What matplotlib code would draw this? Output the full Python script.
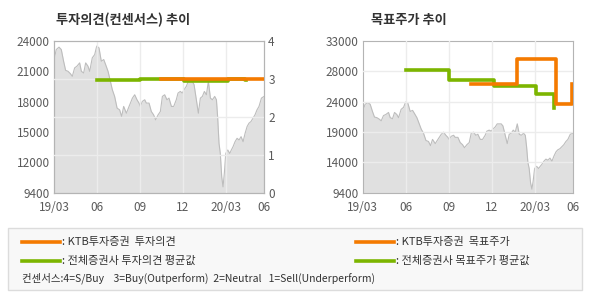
import matplotlib
matplotlib.use("Agg")
import matplotlib.pyplot as plt
from matplotlib.patches import Rectangle
from matplotlib.lines import Line2D

plt.rcParams['font.family'] = ['Noto Sans CJK KR', 'DejaVu Sans']

# x in months since 19/03
price_m = [0.00, 0.16, 0.35, 0.51, 0.67, 0.81, 0.98, 1.14, 1.28, 1.44, 1.60, 1.79, 1.91, 2.07,
           2.21, 2.37, 2.49, 2.67, 2.84, 2.98, 3.14, 3.30, 3.47, 3.60, 3.77, 3.88, 4.07, 4.23,
           4.40, 4.58, 4.72, 4.86, 5.05, 5.19, 5.33, 5.47, 5.63, 5.79, 5.93, 6.02, 6.16, 6.33,
           6.44, 6.63, 6.79, 6.95, 7.09, 7.26, 7.42, 7.56, 7.72, 7.88, 8.02, 8.19, 8.35, 8.53,
           8.65, 8.81, 8.95, 9.07, 9.23, 9.37, 9.51, 9.65, 9.77, 9.93, 10.07, 10.21, 10.35,
           10.49, 10.63, 10.77, 10.91, 11.05, 11.21, 11.33, 11.42, 11.51, 11.60, 11.70, 11.79,
           11.88, 11.98, 12.12, 12.26, 12.37, 12.49, 12.63, 12.77, 12.91, 13.05, 13.19, 13.33,
           13.47, 13.60, 13.74, 13.88, 14.02, 14.16, 14.30, 14.47, 14.65]
price = [22200, 23160, 23390, 23160, 22040, 21170, 21070, 20850, 20590, 21400, 21560, 21880,
         21070, 20910, 21880, 21560, 21070, 22360, 22680, 23490, 23320, 22040, 22200, 21720,
         21070, 20430, 19300, 18660, 17540, 17370, 16730, 17700, 17050, 17540, 18020, 18500,
         18820, 18340, 18020, 17700, 18180, 18340, 18020, 18020, 17210, 16890, 16410, 16890,
         17210, 18660, 18820, 18340, 18500, 17700, 17700, 18340, 18980, 19140, 18980, 19300,
         19630, 20110, 20110, 20110, 19790, 18340, 17050, 18500, 18660, 19140, 18820, 20110,
         18500, 18340, 18660, 18340, 16570, 14160, 13190, 10940, 9980, 11260, 13190, 13520,
         13190, 13520, 13840, 14320, 14640, 14480, 14800, 14320, 15120, 15770, 16090, 16250,
         16570, 16890, 17370, 17700, 18500, 18660]

# opinion (right axis 0-4)
ktb_op_m = [7.49, 14.65]
ktb_op = [3.0, 3.0]
avg_op_m = [3.0, 6.02, 9.07, 12.16, 13.35, 13.40]
avg_op = [2.96, 3.0, 2.93, 3.0, 2.96, 2.96]

# target price
ktb_tp_m = [7.51, 10.77, 13.44, 14.58]
ktb_tp = [26240, 30250, 23230, 26290]
avg_tp_m = [3.0, 6.02, 9.12, 12.09, 13.35]
avg_tp = [28500, 26870, 26030, 24790, 22550]

xtick_m = [0, 3, 6, 9, 12, 14.65]
xtick_lbl = ["19/03", "06", "09", "12", "20/03", "06"]
left_lbl = ["9400", "12000", "15000", "18000", "21000", "24000"]
right_lbl = ["9400", "14000", "19000", "24000", "28000", "33000"]

ORANGE = "#f47a00"
GREEN = "#7cb500"
TXT = "#5a5a5a"

fig = plt.figure(figsize=(5.9, 3.0), dpi=100)


def price_panel(ax, lo, hi, labels):
    ax.fill_between(price_m, price, lo, color="#e0e0e0", lw=0, zorder=1)
    ax.plot(price_m, price, color="#bdbdbd", lw=0.8, zorder=2)
    ax.set_xlim(0, 14.65)
    ax.set_ylim(lo, hi)
    ticks = [lo + (hi - lo) * k / 5 for k in range(6)]
    ax.set_yticks(ticks)
    ax.set_yticklabels(labels)
    ax.set_xticks(xtick_m)
    ax.set_xticklabels(xtick_lbl)
    ax.tick_params(length=0, labelsize=8.5, colors=TXT, pad=3)
    ax.tick_params(axis="x", pad=6)
    for sp in ax.spines.values():
        sp.set_color("#b4b4b4")
    for m in xtick_m[1:-1]:
        ax.axvline(m, color="#ececec", lw=1, zorder=3)


# left panel
ax1 = fig.add_axes([0.0915, 0.357, 0.356, 0.507])
price_panel(ax1, 9400, 24000, left_lbl)
ax1r = ax1.twinx()
ax1r.set_ylim(0, 4)
ax1r.set_yticks([0, 1, 2, 3, 4])
ax1r.tick_params(length=0, labelsize=8.5, colors=TXT, pad=3)
for sp in ax1r.spines.values():
    sp.set_color("#b4b4b4")
for v in [1, 2, 3]:
    ax1r.axhline(v, color="#ececec", lw=1, zorder=3)
ax1r.plot(avg_op_m, avg_op, drawstyle="steps-post", color=GREEN, lw=2.6, zorder=4)
ax1r.plot(ktb_op_m, ktb_op, drawstyle="steps-post", color=ORANGE, lw=2.6, zorder=5)
fig.text(0.095, 0.92, "투자의견(컨센서스) 추이", fontsize=9.5, fontweight="bold", color="#333333")

# right panel
ax2 = fig.add_axes([0.615, 0.357, 0.356, 0.507])
price_panel(ax2, 9400, 33000, right_lbl)
for v in ax2.get_yticks()[1:-1]:
    ax2.axhline(v, color="#ececec", lw=1, zorder=3)
ax2.plot(avg_tp_m, avg_tp, drawstyle="steps-post", color=GREEN, lw=2.6, zorder=4)
ax2.plot(ktb_tp_m, ktb_tp, drawstyle="steps-post", color=ORANGE, lw=2.6, zorder=5)
fig.text(0.628, 0.92, "목표주가 추이", fontsize=9.5, fontweight="bold", color="#333333")

# legend box
W, H = 590, 300
fig.patches.append(Rectangle((8 / W, 1 - 290 / H), 574 / W, 62 / H, transform=fig.transFigure,
                             facecolor="#f8f8f8", edgecolor="#dcdcdc", lw=1))


def legend_row(x0, y, color, label):
    fig.lines.append(Line2D([x0 / W, (x0 + 38) / W], [1 - y / H, 1 - y / H],
                            transform=fig.transFigure, color=color, lw=2.6))
    fig.text((x0 + 40) / W, 1 - y / H, ": " + label, fontsize=8, color="#333333", va="center")


legend_row(22, 242, ORANGE, "KTB투자증권  투자의견")
legend_row(22, 261, GREEN, "전체증권사 투자의견 평균값")
legend_row(356, 242, ORANGE, "KTB투자증권  목표주가")
legend_row(356, 261, GREEN, "전체증권사 목표주가 평균값")
fig.text(22 / W, 1 - 278 / H, "컨센서스:4=S/Buy    3=Buy(Outperform)  2=Neutral   1=Sell(Underperform)",
         fontsize=7.5, color="#333333", va="center")

fig.savefig("out.png", dpi=100)
